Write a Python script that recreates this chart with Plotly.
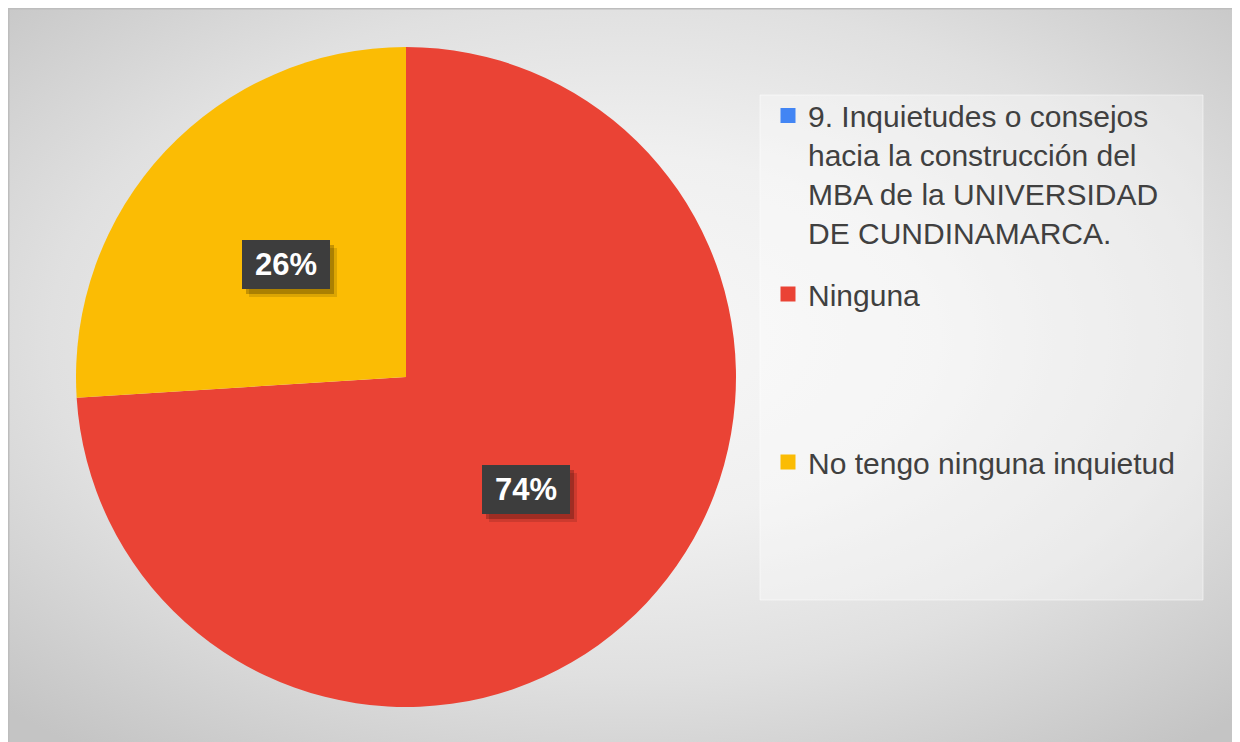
import math
import plotly.graph_objects as go

# chart data
categories = ["9. Inquietudes o consejos<br>hacia la construcción del<br>MBA de la UNIVERSIDAD<br>DE CUNDINAMARCA.",
              "Ninguna",
              "No tengo ninguna inquietud"]
values = [0, 74, 26]
colors = ["#4285F4", "#EA4335", "#FBBC04"]

# the page adds an 8px body margin, so the figure is a bit smaller than the window
W, H = 1226, 734
cx, cy, r = 398, 369, 330  # pie centre / radius in px
FONT = "Arial, Liberation Sans, sans-serif"

fig = go.Figure()

# background panel with a radial gradient
fig.add_trace(go.Scatter(x=[-270, 1510, 1510, -270, -270],
                         y=[-190, -190, 850, 850, -190],
                         fill='toself', mode='none',
                         fillgradient=dict(type='radial',
                                           colorscale=[[0, '#f7f7f7'], [0.35, '#f0f0f0'],
                                                       [0.65, '#e0e0e0'], [1, '#c4c4c4']]),
                         hoverinfo='skip', showlegend=False))

# the pie
fig.add_trace(go.Pie(labels=categories, values=values,
                     marker=dict(colors=colors, line=dict(width=0)),
                     sort=False, direction='clockwise', rotation=0,
                     textinfo='none', hoverinfo='label+percent',
                     showlegend=False,
                     domain=dict(x=[(cx - r) / W, (cx + r) / W],
                                 y=[(H - cy - r) / H, (H - cy + r) / H])))

# legend entries, one legend each so they can be spaced like the original
legend_ids = ['legend', 'legend2', 'legend3']
legend_y = [166, 286, 454]
for name, c, lg in zip(categories, colors, legend_ids):
    fig.add_trace(go.Scatter(x=[None], y=[None], mode='markers',
                             marker=dict(symbol='square', size=15, color=c),
                             name=name, legend=lg, hoverinfo='skip'))

legend_style = dict(x=760 / W, xanchor='left', yanchor='middle', valign='top',
                    bgcolor='rgba(0,0,0,0)', borderwidth=0,
                    font=dict(family=FONT, size=30, color='#404040'))

# percentage labels
annotations = []
total = sum(values)
acc = 0
for v in values:
    if v == 0:
        continue
    mid = (acc + v / 2) / total * 2 * math.pi
    acc += v
    px = cx + 0.5 * r * math.sin(mid)
    py = cy - 0.5 * r * math.cos(mid)
    common = dict(x=px / W, y=1 - py / H, xref='paper', yref='paper',
                  xanchor='center', yanchor='middle',
                  showarrow=False, width=84, height=45, borderpad=2, borderwidth=0)
    annotations.append(dict(common, text=' ', bgcolor='rgba(0,0,0,0.12)', xshift=7, yshift=-8))
    annotations.append(dict(common, text=' ', bgcolor='rgba(0,0,0,0.22)', xshift=4, yshift=-5))
    annotations.append(dict(common, text='<b>%d%%</b>' % round(v / total * 100),
                            bgcolor='#3d3d3d',
                            font=dict(family=FONT, size=31, color='white')))

shapes = [
    # legend panel
    dict(type='rect', xref='x', yref='y', x0=752, x1=1195, y0=87, y1=592,
         fillcolor='rgba(255,255,255,0.35)', line=dict(width=1, color='rgba(255,255,255,0.5)')),
    # outer border
    dict(type='rect', xref='x', yref='y', x0=0.5, x1=W - 0.5, y0=0.5, y1=H + 5,
         line=dict(width=2, color='#bdbdbd')),
]

fig.update_layout(width=W, height=H,
                  margin=dict(l=0, r=0, t=0, b=0),
                  paper_bgcolor='white', plot_bgcolor='rgba(0,0,0,0)',
                  xaxis=dict(range=[0, W], visible=False, fixedrange=True),
                  yaxis=dict(range=[H, 0], visible=False, fixedrange=True),
                  legend=dict(legend_style, y=1 - legend_y[0] / H),
                  legend2=dict(legend_style, y=1 - legend_y[1] / H),
                  legend3=dict(legend_style, y=1 - legend_y[2] / H),
                  annotations=annotations, shapes=shapes)

fig.write_html("out.html")
